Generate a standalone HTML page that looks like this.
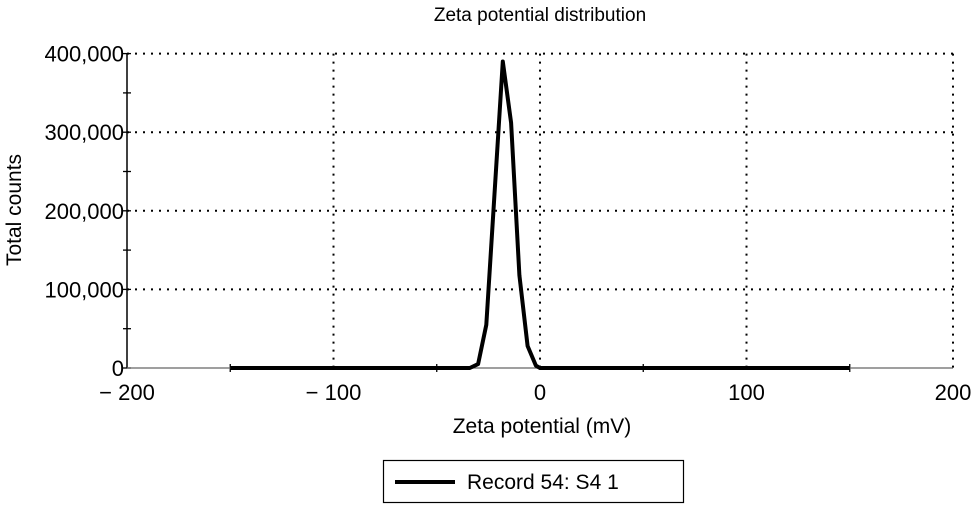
<!DOCTYPE html>
<html><head><meta charset="utf-8"><style>
body{margin:0;background:#fff;}
svg text{font-family:"Liberation Sans",sans-serif;fill:#000;}
</style></head><body>
<svg width="975" height="506" xmlns="http://www.w3.org/2000/svg">
<text x="540" y="21" font-size="19" text-anchor="middle">Zeta potential distribution</text>
<g id="grid"></g>
<g id="axes"></g>
<text transform="translate(21,210) rotate(-90)" font-size="21" text-anchor="middle">Total counts</text>
<text x="542" y="433" font-size="21" text-anchor="middle">Zeta potential (mV)</text>
<path id="series" fill="none" stroke="#000" stroke-width="4" stroke-linejoin="round"/>
<g>
<rect x="383.5" y="460.5" width="300" height="42" fill="#fff" stroke="#000" stroke-width="1.2"/>
<line x1="395" y1="482" x2="455" y2="482" stroke="#000" stroke-width="4"/>
<text x="467" y="489" font-size="21">Record 54: S4 1</text>
</g>
<script>
const xTicks=[-200,-100,0,100,200];
const xMinor=[-150,-50,50,150];
const yTicks=[0,100000,200000,300000,400000];
const yTickLabels=["0","100,000","200,000","300,000","400,000"];
const yMinor=[50000,150000,250000,350000];
const xs=[-150,-34,-30,-26,-18,-14,-10,-6,-2,0,150];
const ys=[0,0,5000,55000,390000,312000,118000,28000,3000,0,0];
const X=v=>540+v*2.065, Y=v=>368-v*0.000786;
const NS="http://www.w3.org/2000/svg";
const g=document.getElementById('grid'), a=document.getElementById('axes');
function mk(p,tag,at){const e=document.createElementNS(NS,tag);for(const k in at)e.setAttribute(k,at[k]);p.appendChild(e);return e;}
xTicks.forEach((t,i)=>{
 if(i>0){const l=mk(g,'line',{x1:X(t),x2:X(t),y1:Y(400000),y2:Y(0),stroke:'#000','stroke-width':2,'stroke-dasharray':'2 6'});
 
 }
 const tx=mk(a,'text',{x:X(t),y:400,'font-size':22,'text-anchor':'middle'});
 tx.textContent=t<0?'\u2212 '+(-t):String(t);
 
 
});
yTicks.forEach((t,i)=>{
 if(i>0){const l=mk(g,'line',{x1:X(-200),x2:X(200),y1:Y(t),y2:Y(t),stroke:'#000','stroke-width':2,'stroke-dasharray':'2 6'});
 
 }
 mk(a,'line',{x1:X(-200)-4,x2:X(-200)+4,y1:Y(t),y2:Y(t),stroke:'#000','stroke-width':1.3});
 const tx=mk(a,'text',{x:X(-200)-3,y:Y(t)+8,'font-size':22,'text-anchor':'end'});
 tx.textContent=yTickLabels[i];
 
 
});
yMinor.forEach(t=>{mk(a,'line',{x1:X(-200)-4,x2:X(-200)+4,y1:Y(t),y2:Y(t),stroke:'#000','stroke-width':1.3});});
xMinor.forEach(t=>{mk(a,'line',{x1:X(t),x2:X(t),y1:Y(0)-4,y2:Y(0)+4,stroke:'#000','stroke-width':1.3});});
const ya=mk(a,'line',{x1:X(-200),x2:X(-200),y1:Y(400000),y2:Y(0),stroke:'#000','stroke-width':1.5});


const xa=mk(a,'line',{x1:X(-200),x2:X(200),y1:Y(0),y2:Y(0),stroke:'#666','stroke-width':1.3});


document.getElementById('series').setAttribute('d',xs.map((v,i)=>(i?'L':'M')+X(v).toFixed(1)+','+Y(ys[i]).toFixed(1)).join(''));
</script>
</svg>
</body></html>
